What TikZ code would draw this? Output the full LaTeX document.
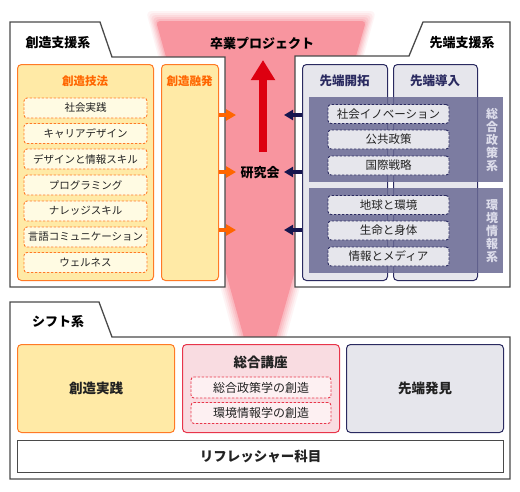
\documentclass[tikz,border=0pt]{standalone}
\usepackage{fontspec}
\setmainfont{Noto Sans CJK JP}
\usetikzlibrary{arrows.meta}
\definecolor{orgB}{HTML}{FF7A26}
\definecolor{orgT}{HTML}{FF6600}
\definecolor{orgF}{HTML}{FFEAA6}
\definecolor{cream}{HTML}{FFFBE3}
\definecolor{navy}{HTML}{2A2A60}
\definecolor{navyA}{HTML}{16164E}
\definecolor{grayF}{HTML}{E6E6EC}
\definecolor{bandC}{HTML}{6A6A94}
\definecolor{pinkF}{HTML}{F8959F}
\definecolor{redA}{HTML}{DD0010}
\definecolor{redB}{HTML}{E8354A}
\definecolor{pinkBox}{HTML}{F9DCE1}
\definecolor{pinkItem}{HTML}{FDF0F2}
\definecolor{panelC}{HTML}{4A4A4A}
\definecolor{txt}{HTML}{222222}
\definecolor{vtxt}{HTML}{DCDCEA}
\tikzset{
  panelline/.style={draw=panelC, line width=1.3pt, fill=white},
  ptitle/.style={font=\fontsize{13}{15}\selectfont\bfseries, text=black, inner sep=0pt},
  obox/.style={draw=orgB, fill=orgF, line width=1pt, rounded corners=4pt, inner sep=0pt, anchor=north west},
  nbox/.style={draw=navy, fill=grayF, line width=1pt, rounded corners=4pt, inner sep=0pt, anchor=north west},
  pbox/.style={draw=redB, fill=pinkBox, line width=1pt, rounded corners=4pt, inner sep=0pt, anchor=north west},
  rbox/.style={draw=panelC, fill=white, line width=1.3pt, inner sep=0pt, anchor=north west},
  otitle/.style={font=\fontsize{11.5}{13}\selectfont\bfseries, text=orgT, inner sep=0pt},
  ntitle/.style={font=\fontsize{12.5}{14}\selectfont\bfseries, text=navy, inner sep=0pt},
  btitle/.style={font=\fontsize{13.5}{15}\selectfont\bfseries, text=txt},
  litem/.style={draw=orgB, fill=cream, line width=0.9pt, dash pattern=on 2.5pt off 1.5pt, rounded corners=3pt, minimum width=123pt, minimum height=20pt, inner sep=0pt, font=\fontsize{10.5}{12}\selectfont, text=txt},
  nitem/.style={draw=navy, fill=grayF, line width=0.9pt, dash pattern=on 2.5pt off 1.5pt, rounded corners=3pt, minimum width=121pt, minimum height=19pt, inner sep=0pt, font=\fontsize{11.5}{12}\selectfont, text=txt},
  pitem/.style={draw=redB, fill=pinkItem, line width=0.9pt, dash pattern=on 2.5pt off 1.5pt, rounded corners=3pt, minimum width=140pt, minimum height=21pt, inner sep=0pt, font=\fontsize{12}{13}\selectfont, text=txt},
  vlabel/.style={font=\fontsize{12}{13}\selectfont\bfseries, text=vtxt, align=center, inner sep=0pt},
  oarrow/.style={draw=orgT, line width=4pt, -{Triangle[width=11pt,length=10pt]}},
  narrow/.style={draw=navyA, line width=4pt, -{Triangle[width=10pt,length=9pt]}},
  redarrow/.style={draw=redA, line width=8pt, -{Triangle[width=23pt,length=20pt]}}
}
\begin{document}
\begin{tikzpicture}[x=1pt,y=-1pt]
\useasboundingbox (0,0) rectangle (520,491);
\fill[white] (0,0) rectangle (520,491);
% pink funnel with soft edges
\foreach \d/\o in {9/0.10,7/0.12,5/0.16,3/0.22,1/0.3}{
  \fill[pinkF, opacity=\o, rounded corners=6pt] ({155-\d},{20-\d}) -- ({367+\d},{20-\d}) -- ({275+\d},345) -- ({245-\d},345) -- cycle;
}
\fill[pinkF, rounded corners=4pt] (156,21) -- (366,21) -- (274,345) -- (246,345) -- cycle;

% left panel
\draw[panelline] (10,22) -- (100,22) -- (112,57) -- (225,57) -- (225,287) -- (10,287) -- cycle;
\node[ptitle] (sozoT) at (58,43) {創造支援系};
\node[obox, minimum width=136pt, minimum height=216pt] (giho) at (17,64) {};
\node[otitle] (gihoT) at (85,81) {創造技法};
\node[obox, minimum width=57pt, minimum height=216pt] (yuhatsu) at (161,64) {};
\node[otitle] (yuhatsuT) at (189.5,81) {創造融発};
\node[litem] (l1) at (85.5,108) {社会実践};
\node[litem] (l2) at (85.5,133.5) {キャリアデザイン};
\node[litem] (l3) at (85.5,159) {デザインと情報スキル};
\node[litem] (l4) at (85.5,185) {プログラミング};
\node[litem] (l5) at (85.5,211) {ナレッジスキル};
\node[litem] (l6) at (85.5,237) {言語コミュニケーション};
\node[litem] (l7) at (85.5,262.5) {ウェルネス};

% right panel
\draw[panelline] (510,22) -- (423,22) -- (409,56) -- (295,56) -- (295,287) -- (510,287) -- cycle;
\node[ptitle] (sentanT) at (462,43) {先端支援系};
\node[nbox, minimum width=85pt, minimum height=216pt] (kaitaku) at (302,64) {};
\node[ntitle] (kaitakuT) at (344.5,81) {先端開拓};
\node[nbox, minimum width=84pt, minimum height=216pt] (donyu) at (393,64) {};
\node[ntitle] (donyuT) at (435,81) {先端導入};
\fill[bandC, opacity=0.85] (309,97) rectangle (503,182);
\fill[bandC, opacity=0.85] (309,188) rectangle (503,273);
\node[vlabel] (sogoV) at (492,140) {総\\合\\政\\策\\系};
\node[vlabel] (kankyoV) at (492,231) {環\\境\\情\\報\\系};
\node[nitem] (r1) at (388.5,114) {社会イノベーション};
\node[nitem] (r2) at (388.5,139.5) {公共政策};
\node[nitem] (r3) at (388.5,165.5) {国際戦略};
\node[nitem] (r4) at (388.5,205) {地球と環境};
\node[nitem] (r5) at (388.5,230.5) {生命と身体};
\node[nitem] (r6) at (388.5,256.5) {情報とメディア};

% centre labels and arrows
\node[ptitle] (sotsu) at (262,43) {卒業プロジェクト};
\node[ptitle] (kenkyu) at (260,173) {研究会};
\draw[redarrow] ([shift={(3,-21)}]kenkyu.center) -- ([shift={(1,17)}]sotsu.center);

\coordinate (oa1) at (236,115);
\coordinate (oa2) at (236,172);
\coordinate (oa3) at (236,230);
\draw[oarrow] (yuhatsu.east |- oa1) -- (oa1);
\draw[oarrow] (yuhatsu.east |- oa2) -- (oa2);
\draw[oarrow] (yuhatsu.east |- oa3) -- (oa3);
\coordinate (na1) at (284,115);
\coordinate (na2) at (284,172);
\coordinate (na3) at (284,230);
\draw[narrow] (kaitaku.west |- na1) -- (na1);
\draw[narrow] (kaitaku.west |- na2) -- (na2);
\draw[narrow] (kaitaku.west |- na3) -- (na3);

% bottom panel
\draw[panelline] (10,302) -- (99,302) -- (112,337) -- (510,337) -- (510,479) -- (10,479) -- cycle;
\node[ptitle] (shiftT) at (58,322) {シフト系};
\node[obox, minimum width=157pt, minimum height=88pt, btitle] (jissen) at (17,344) {創造実践};
\node[pbox, minimum width=157pt, minimum height=88pt] (koza) at (182,344) {};
\node[btitle, inner sep=0pt] (kozaT) at (260.5,362) {総合講座};
\node[pitem] (p1) at (261,387.5) {総合政策学の創造};
\node[pitem] (p2) at (261,413) {環境情報学の創造};
\node[nbox, minimum width=157pt, minimum height=88pt, btitle] (hakken) at (346,344) {先端発見};
\node[rbox, minimum width=486pt, minimum height=32pt, btitle] (refresh) at (17,440) {リフレッシャー科目};
\end{tikzpicture}
\end{document}
